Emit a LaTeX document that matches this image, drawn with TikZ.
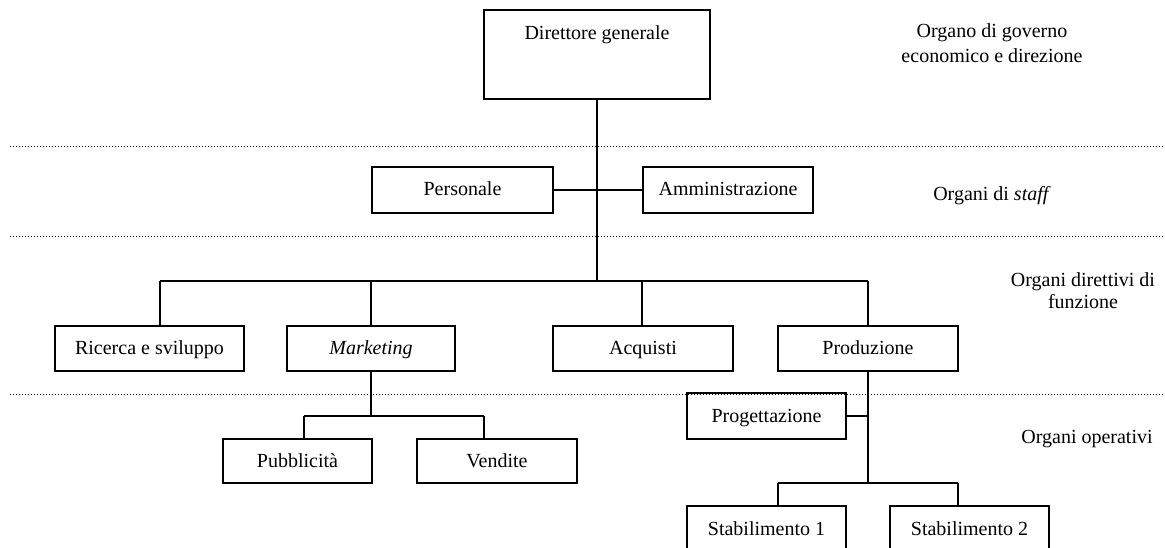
\documentclass[tikz,border=0pt]{standalone}
\usepackage{fontspec}
\setmainfont{Liberation Serif}
\begin{document}
\begin{tikzpicture}[x=1pt,y=-1pt,
  box/.style={draw, line width=1.8pt, inner sep=0pt, minimum height=46pt,
              text height=16pt, text depth=4pt, font=\fontsize{20}{24}\selectfont},
  link/.style={line width=1.4pt},
  sep/.style={line width=1pt, dash pattern=on 1pt off 2pt},
  tier/.style={align=center, inner sep=0pt}]
\useasboundingbox (0,0) rectangle (1165,548);
\clip (0,0) rectangle (1165,548);

% level separators
\draw[sep] (10,147) -- (1165,147);
\draw[sep] (10,237) -- (1165,237);
\draw[sep] (10,394) -- (1165,394);

% units
\node[box, minimum width=226pt, minimum height=89pt, text height=30pt, text depth=59pt]
  (dir) at (597,54.5) {Direttore generale};
\node[box, minimum width=181pt] (pers) at (462.5,190) {Personale};
\node[box, minimum width=170pt] (amm) at (728,190) {Amministrazione};
\node[box, minimum width=189pt, minimum height=45pt] (ric) at (149.5,348.5) {Ricerca e sviluppo};
\node[box, minimum width=168pt, minimum height=45pt] (mkt) at (371,348.5) {\itshape Marketing};
\node[box, minimum width=180pt, minimum height=45pt] (acq) at (643,348.5) {Acquisti};
\node[box, minimum width=180pt, minimum height=45pt] (prod) at (868,348.5) {Produzione};
\node[box, minimum width=149pt, minimum height=44pt] (pub) at (297.5,461) {Pubblicità};
\node[box, minimum width=160pt, minimum height=44pt] (ven) at (497,461) {Vendite};
\node[box, minimum width=159pt] (prog) at (766.5,416) {Progettazione};
\node[box, minimum width=159pt, minimum height=50pt, text height=16pt, text depth=8pt]
  (st1) at (766.5,531) {Stabilimento 1};
\node[box, minimum width=159pt, minimum height=50pt, text height=16pt, text depth=8pt]
  (st2) at (969.5,531) {Stabilimento 2};

% tier labels
\node[tier, font=\fontsize{20}{25}\selectfont] (tgov) at (992,43.5)
  {Organo di governo\\economico e direzione};
\node[tier, font=\fontsize{20}{24}\selectfont, anchor=base] (tstaff) at (992,201)
  {Organi di \textit{staff}};
\node[tier, font=\fontsize{20}{22}\selectfont] (tfun) at (1083,290.5)
  {Organi direttivi di\\funzione};
\node[tier, font=\fontsize{20}{24}\selectfont, anchor=base] (top) at (1087,443)
  {Organi operativi};

% connectors
\coordinate (j0) at (597,281);
\coordinate (fl) at (160,281);
\coordinate (fr) at (868,281);
\draw[link] (dir.south) -- (j0);
\draw[link] (pers.east) -- (amm.west);
\draw[link] (fl) -- (fr);
\draw[link] (fl) -- (fl |- ric.north);
\draw[link] (mkt.north) -- (mkt.north |- fl);
\draw[link] (642,281) -- (642,326);
\draw[link] (fr) -- (prod.north);

\coordinate (mj) at (371,416);
\coordinate (ml) at (304,416);
\coordinate (mr) at (484,416);
\draw[link] (mkt.south) -- (mj);
\draw[link] (ml) -- (mr);
\draw[link] (ml) -- (ml |- pub.north);
\draw[link] (mr) -- (mr |- ven.north);

\coordinate (pj) at (868,483);
\coordinate (pl) at (778,483);
\coordinate (pr) at (958,483);
\draw[link] (prod.south) -- (pj);
\draw[link] (prog.east) -- (prog.east -| pj);
\draw[link] (pl) -- (pr);
\draw[link] (pl) -- (pl |- st1.north);
\draw[link] (pr) -- (pr |- st2.north);
\end{tikzpicture}
\end{document}
